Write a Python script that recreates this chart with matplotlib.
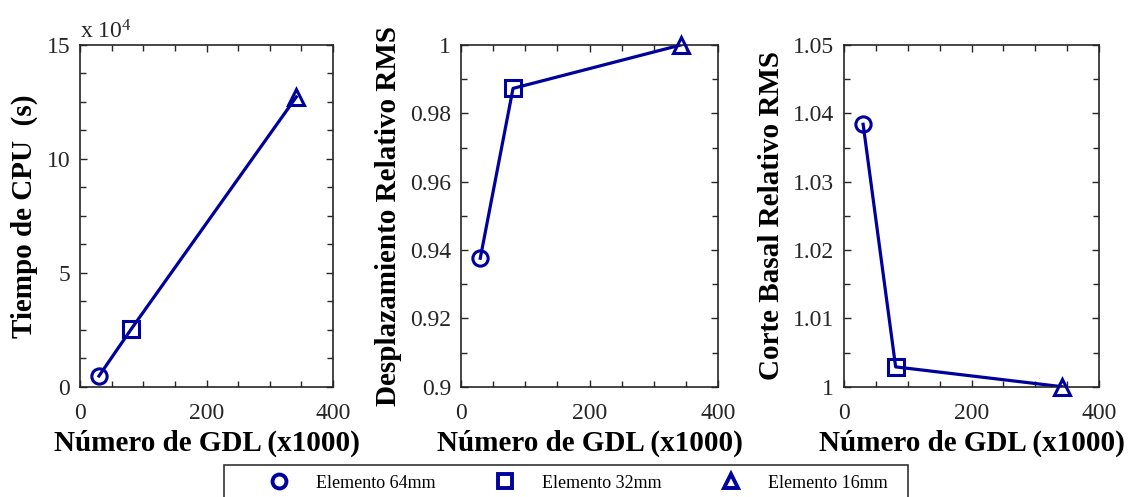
import matplotlib
matplotlib.use('Agg')
from matplotlib import pyplot as plt
from matplotlib.lines import Line2D
from matplotlib.patches import Rectangle
from matplotlib.ticker import MultipleLocator, FuncFormatter

# grados de libertad (miles) para cada malla
gdl = [30, 81, 342]
etiquetas = ['Elemento 64mm', 'Elemento 32mm', 'Elemento 16mm']
marcadores = ['o', 's', '^']

tiempo_cpu = [4700, 25300, 127200]          # s
desplazamiento_rms = [0.9376, 0.9873, 1.0]
corte_basal_rms = [1.0384, 1.0029, 1.0]

plt.rcParams['font.family'] = ['Liberation Serif', 'DejaVu Serif']
plt.rcParams['mathtext.fontset'] = 'custom'
plt.rcParams['mathtext.rm'] = 'Liberation Serif'

azul = '#00009C'
gris = '#262626'

fig = plt.figure(figsize=(11.28, 4.97), dpi=100)
W, H = 1128, 497
cajas = [(80, 333), (461, 718), (844, 1099)]
top, bottom = 45, 386.7

datos = [tiempo_cpu, desplazamiento_rms, corte_basal_rms]
ylabels = ['Tiempo de CPU  (s)', 'Desplazamiento Relativo RMS',
           'Corte Basal Relativo RMS']
ylims = [(0, 150000), (0.9, 1.0), (1.0, 1.05)]
mayores = [50000, 0.02, 0.01]
menores = [12500, 0.01, 0.005]

for i, (x0, x1) in enumerate(cajas):
    ax = fig.add_axes([x0 / W, 1 - bottom / H, (x1 - x0) / W, (bottom - top) / H])
    y = datos[i]
    ax.plot(gdl, y, '-', color=azul, lw=2.3, zorder=2)
    for xm, ym, m in zip(gdl, y, marcadores):
        ax.plot(xm, ym, m, color=azul, mfc='none', ms=11, mew=2.2, clip_on=False, zorder=3)
    ax.set_xlim(0, 400)
    ax.set_ylim(*ylims[i])
    ax.xaxis.set_major_locator(MultipleLocator(200))
    ax.xaxis.set_minor_locator(MultipleLocator(50))
    ax.yaxis.set_major_locator(MultipleLocator(mayores[i]))
    ax.yaxis.set_minor_locator(MultipleLocator(menores[i]))
    if i == 0:
        ax.yaxis.set_major_formatter(FuncFormatter(lambda v, p: '%g' % (v / 1e4)))
        ax.text(0.0, 1.003, r'x $\mathregular{10^4}$', transform=ax.transAxes,
                fontsize=17, color=gris, ha='left', va='bottom')
    else:
        ax.yaxis.set_major_formatter(FuncFormatter(lambda v, p: '%g' % round(v, 4)))
    ax.tick_params(which='both', direction='in', top=True, right=True,
                   labelsize=17, colors=gris)
    ax.tick_params(axis='y', which='major', pad=7)
    ax.tick_params(axis='x', which='major', pad=12)
    ax.tick_params(which='major', length=5, width=1)
    ax.tick_params(which='minor', length=4, width=1)
    for s in ax.spines.values():
        s.set_linewidth(1.2)
        s.set_color(gris)
    ax.set_xlabel('Número de GDL (x1000)', fontsize=21, fontweight='bold', labelpad=4)
    ax.set_ylabel(ylabels[i], fontsize=21, fontweight='bold', labelpad=6)

# leyenda: marco fijo y una entrada por malla
fig.add_artist(Rectangle((224 / W, -0.1), (908 - 224) / W, 1.1 - 465 / H,
                         transform=fig.transFigure, fill=False, lw=1.2,
                         ec='#333333'))
pos_marcador = [279, 505, 731]
for xm, m, lab in zip(pos_marcador, marcadores, etiquetas):
    h = Line2D([], [], ls='none', marker=m, color=azul, mfc='none', ms=10, mew=2.8)
    fig.legend([h], [lab], loc='center left',
               bbox_to_anchor=((xm - 9) / W, 1 - 483 / H), fontsize=13,
               frameon=False, borderpad=0, borderaxespad=0,
               handlelength=1.0, handletextpad=1.55)

fig.savefig('out.png', dpi=100)
